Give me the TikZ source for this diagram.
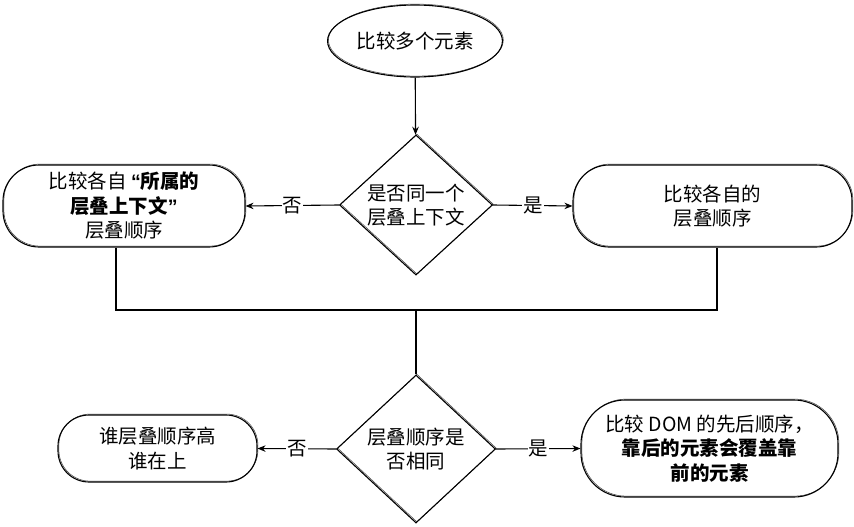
\documentclass[tikz,border=0pt]{standalone}
\usepackage{fontspec}
\setmainfont{Noto Sans CJK SC}
\newfontfamily\quotefont{Liberation Sans}
\usetikzlibrary{shapes.geometric,arrows.meta}
\newcommand{\openq}{{\quotefont\bfseries “}}
\newcommand{\closeq}{{\quotefont\bfseries ”}}
\begin{document}
\begin{tikzpicture}[x=1pt,y=-1pt,
  sketch/.style={draw=black, line width=1.1pt,
    preaction={draw=black!75, line width=0.5pt,
      transform canvas={shift={(0.9pt,0.9pt)}}}},
  txt/.style={font=\fontsize{19.5}{24.5}\selectfont, align=center, text=black},
  pill/.style={sketch, txt, rectangle, rounded corners=#1, inner sep=2pt},
  decision/.style={sketch, txt, diamond, inner sep=0pt},
  flow/.style={line width=1.1pt, -{Stealth[length=8pt,width=6.5pt]}},
  link/.style={line width=1.3pt},
  lbl/.style={txt, fill=white, inner sep=1pt}]
\useasboundingbox (0,0) rectangle (854,527);

% start
\node[sketch, txt, ellipse, minimum width=152pt, minimum height=72pt] (start) at (415,41) {比较多个元素};

% first decision and its two outcomes
\node[decision, minimum width=153pt, minimum height=140pt] (q1) at (416,205) {是否同一个\\层叠上下文};
\node[pill=36pt, minimum width=242pt, minimum height=82pt] (ctx) at (124,206)
  {比较各自 \openq\textbf{所属的}\\\textbf{层叠上下文}\closeq\\层叠顺序};
\node[pill=36pt, minimum width=279pt, minimum height=82pt] (ord) at (712.5,206)
  {比较各自的\\层叠顺序};

% merge points
\coordinate (jl) at (116,310);
\coordinate (jm) at (416,310);
\coordinate (jr) at (717,310);

% second decision and its two outcomes
\node[decision, minimum width=159pt, minimum height=148pt] (q2) at (416,449) {层叠顺序是\\否相同};
\node[pill=31pt, minimum width=199pt, minimum height=67pt] (high) at (157.5,448.5)
  {谁层叠顺序高\\谁在上};
\node[pill=44pt, minimum width=257pt, minimum height=97pt] (dom) at (709.5,448.5)
  {比较 DOM 的先后顺序，\\\textbf{靠后的元素会覆盖靠}\\\textbf{前的元素}};

% connectors
\draw[flow] (start) -- (q1);
\draw[flow] (q1.west) -- node[lbl] {否} (ctx.east);
\draw[flow] (q1.east) -- node[lbl] {是} (ord.west);
\draw[link] (ctx.south -| jl) -- (jl) -- (jr) -- (ord.south -| jr);
\draw[link] (jm) -- (q2.north);
\draw[flow] (q2.west) -- node[lbl] {否} (high.east);
\draw[flow] (q2.east) -- node[lbl] {是} (dom.west);
\end{tikzpicture}
\end{document}
